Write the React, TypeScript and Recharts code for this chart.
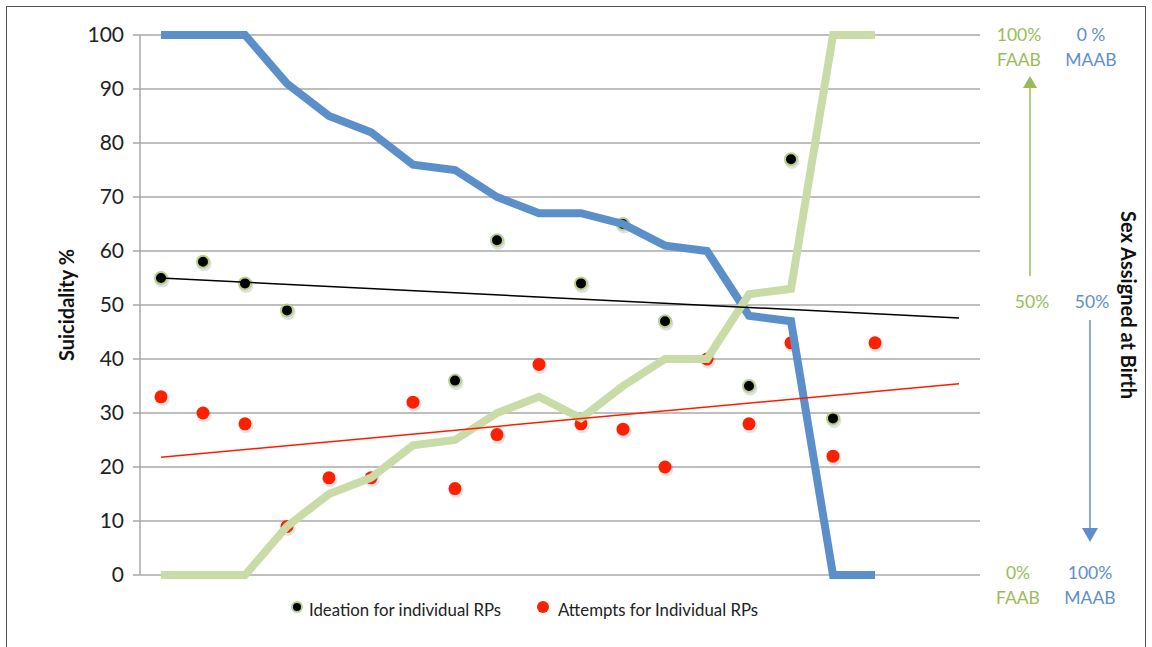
import { ComposedChart, Line, Scatter, XAxis, YAxis, CartesianGrid } from "recharts";

// RP position along the x axis (20 slots, 18 used)
const rpIndex = [1, 2, 3, 4, 5, 6, 7, 8, 9, 10, 11, 12, 13, 14, 15, 16, 17, 18];
const maabPct = [100, 100, 100, 91, 85, 82, 76, 75, 70, 67, 67, 65, 61, 60, 48, 47, 0, 0];
const faabPct = [0, 0, 0, 9, 15, 18, 24, 25, 30, 33, 29, 35, 40, 40, 52, 53, 100, 100];
const ideation = [55, 58, 54, 49, null, null, null, 36, 62, null, 54, 65, 47, null, 35, 77, 29, null];
const attempts = [33, 30, 28, 9, 18, 18, 32, 16, 26, 39, 28, 27, 20, 40, 28, 43, 22, 43];

// trendline ends at x = 1 and x = 20
const trendX = [1, 20];
const ideationTrend = [55.0, 47.6];
const attemptsTrend = [21.8, 35.4];

const yTicks = [0, 10, 20, 30, 40, 50, 60, 70, 80, 90, 100];
const legendNames = ["Ideation for individual RPs", "Attempts for Individual RPs"];

const BLUE = "#5b8fca";
const GREEN = "#c9dca8";
const GREEN_TEXT = "#9bbb59";
const BLUE_TEXT = "#5f8ecb";
const RED = "#ff2000";
const FONT = "Lato, 'Open Sans', sans-serif";

const lineData = rpIndex.map((x, i) => ({ x, maab: maabPct[i], faab: faabPct[i] }));
const ideationData = rpIndex
  .map((x, i) => ({ x, y: ideation[i] }))
  .filter((d) => d.y !== null);
const attemptsData = rpIndex.map((x, i) => ({ x, y: attempts[i] }));
const ideationTrendData = trendX.map((x, i) => ({ x, t: ideationTrend[i] }));
const attemptsTrendData = trendX.map((x, i) => ({ x, t: attemptsTrend[i] }));

const IdeationDot = (props: any) => (
  <g>
    <circle cx={props.cx + 1} cy={props.cy + 2} r={7.5} fill="#000" opacity={0.12} />
    <circle cx={props.cx} cy={props.cy} r={6} fill="#000" stroke="#b7d08c" strokeWidth={2} />
  </g>
);

const AttemptDot = (props: any) => (
  <g>
    <circle cx={props.cx + 1} cy={props.cy + 2} r={7.5} fill="#000" opacity={0.1} />
    <circle cx={props.cx} cy={props.cy} r={6.5} fill={RED} />
  </g>
);

const txt = (color: string): React.CSSProperties => ({
  position: "absolute",
  fontFamily: FONT,
  fontSize: 17.5,
  color,
  textAlign: "center",
  lineHeight: "25px",
  width: 70,
});

export default function App() {
  return (
    <div style={{ position: "absolute", left: 0, top: 0, width: 1152, height: 647, overflow: "hidden", background: "#fff" }}>
      <div style={{ position: "absolute", left: 6, top: 6, width: 1138, height: 700, border: "1.5px solid #555" }} />
      <div style={{ position: "absolute", left: 0, top: 0 }}>
        <ComposedChart width={1152} height={647} margin={{ top: 35, right: 172, bottom: 72, left: 80 }} data={lineData}>
          <CartesianGrid horizontal vertical={false} stroke="#a9a9a9" strokeWidth={1.5} />
          <XAxis dataKey="x" type="number" domain={[0.5, 20.5]} hide allowDataOverflow />
          <YAxis
            domain={[0, 100]}
            ticks={yTicks}
            width={60}
            tickSize={7}
            tickMargin={9}
            axisLine={{ stroke: "#a9a9a9", strokeWidth: 1.5 }}
            tickLine={{ stroke: "#a9a9a9", strokeWidth: 1.5 }}
            tick={{ fontSize: 21, fill: "#222", fontFamily: FONT }}
          />
          <Scatter data={ideationData} dataKey="y" shape={IdeationDot} isAnimationActive={false} zIndex={300} />
          <Scatter data={attemptsData} dataKey="y" shape={AttemptDot} isAnimationActive={false} zIndex={300} />
          <Line dataKey="maab" stroke={BLUE} strokeWidth={8} dot={false} activeDot={false} isAnimationActive={false} zIndex={400} />
          <Line dataKey="faab" stroke={GREEN} strokeWidth={8} dot={false} activeDot={false} isAnimationActive={false} zIndex={400} />
          <Line data={ideationTrendData} dataKey="t" stroke="#000" strokeWidth={1.5} dot={false} activeDot={false} isAnimationActive={false} zIndex={500} />
          <Line data={attemptsTrendData} dataKey="t" stroke="#ff1a00" strokeWidth={1.5} dot={false} activeDot={false} isAnimationActive={false} zIndex={500} />
        </ComposedChart>
      </div>

      {/* legend */}
      <div style={{ position: "absolute", left: 288, top: 597, display: "flex", fontFamily: FONT, fontSize: 16.8, color: "#222", whiteSpace: "nowrap" }}>
        <span style={{ display: "flex", alignItems: "center", width: 247 }}>
          <svg width={16} height={24} style={{ marginRight: 5 }}>
            <circle cx={9} cy={10} r={5} fill="#000" stroke="#b7d08c" strokeWidth={2} />
          </svg>
          {legendNames[0]}
        </span>
        <span style={{ display: "flex", alignItems: "center" }}>
          <svg width={16} height={24} style={{ marginRight: 7 }}>
            <circle cx={8} cy={10} r={6} fill={RED} />
          </svg>
          {legendNames[1]}
        </span>
      </div>

      {/* left and right axis titles */}
      <div style={{ position: "absolute", left: 66, top: 305, transform: "translate(-50%, -50%) rotate(-90deg)", fontFamily: FONT, fontWeight: 700, fontSize: 20, whiteSpace: "nowrap", color: "#111" }}>
        Suicidality %
      </div>
      <div style={{ position: "absolute", left: 1129, top: 305, transform: "translate(-50%, -50%) rotate(90deg)", fontFamily: FONT, fontWeight: 700, fontSize: 20, whiteSpace: "nowrap", color: "#111" }}>
        Sex Assigned at Birth
      </div>

      {/* right side scale notes */}
      <div style={{ ...txt(GREEN_TEXT), left: 984, top: 22 }}>100%<br />FAAB</div>
      <div style={{ ...txt(BLUE_TEXT), left: 1056, top: 22 }}>0 %<br />MAAB</div>
      <div style={{ ...txt(GREEN_TEXT), left: 997, top: 289 }}>50%</div>
      <div style={{ ...txt(BLUE_TEXT), left: 1057, top: 289 }}>50%</div>
      <div style={{ ...txt(GREEN_TEXT), left: 983, top: 560 }}>0%<br />FAAB</div>
      <div style={{ ...txt(BLUE_TEXT), left: 1055, top: 560 }}>100%<br />MAAB</div>
      <svg style={{ position: "absolute", left: 0, top: 0 }} width={1152} height={647}>
        <line x1={1030} y1={86} x2={1030} y2={276} stroke={GREEN_TEXT} strokeWidth={1.5} />
        <polygon points="1023,88 1037,88 1030,76" fill={GREEN_TEXT} />
        <line x1={1090} y1={320} x2={1090} y2={530} stroke={BLUE_TEXT} strokeWidth={1.5} />
        <polygon points="1082,528 1098,528 1090,542" fill={BLUE_TEXT} />
      </svg>
    </div>
  );
}
